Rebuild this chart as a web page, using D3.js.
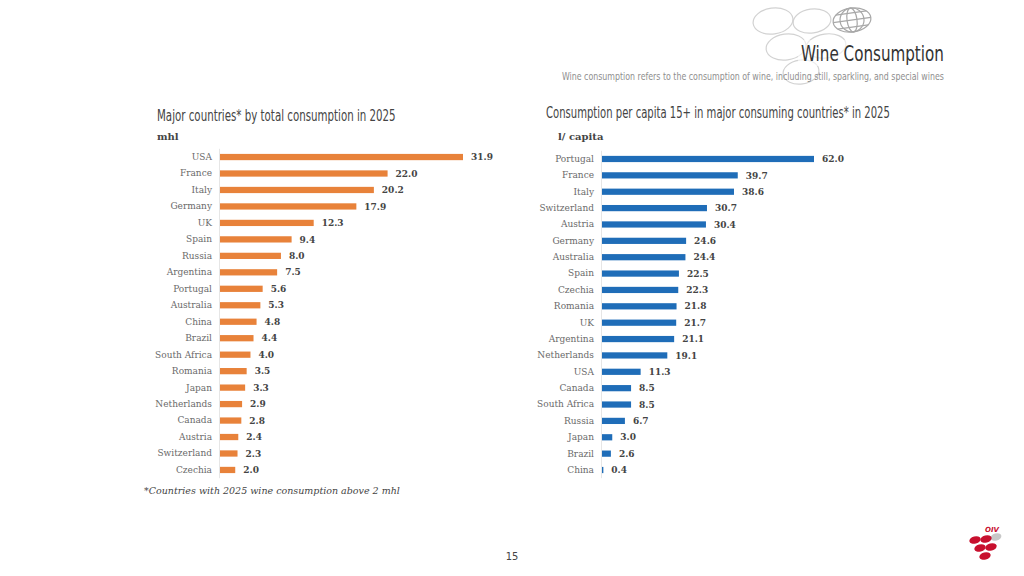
<!DOCTYPE html>
<html>
<head>
<meta charset="utf-8">
<script src="https://cdn.jsdelivr.net/npm/d3@7"></script>
<style>
  body { margin: 0; background: #fff; }
  .cond { font-family: "DejaVu Sans", sans-serif; font-stretch: condensed; }
  .serif { font-family: "DejaVu Serif", "Liberation Serif", serif; }
</style>
</head>
<body>
<svg id="chart" width="1024" height="576"></svg>
<script>
const totalCountries = ['USA', 'France', 'Italy', 'Germany', 'UK', 'Spain', 'Russia', 'Argentina',
  'Portugal', 'Australia', 'China', 'Brazil', 'South Africa', 'Romania', 'Japan', 'Netherlands',
  'Canada', 'Austria', 'Switzerland', 'Czechia'];
const totalValues = [31.9, 22.0, 20.2, 17.9, 12.3, 9.4, 8.0, 7.5, 5.6, 5.3, 4.8, 4.4, 4.0, 3.5,
  3.3, 2.9, 2.8, 2.4, 2.3, 2.0];

const capitaCountries = ['Portugal', 'France', 'Italy', 'Switzerland', 'Austria', 'Germany',
  'Australia', 'Spain', 'Czechia', 'Romania', 'UK', 'Argentina', 'Netherlands', 'USA', 'Canada',
  'South Africa', 'Russia', 'Japan', 'Brazil', 'China'];
const capitaValues = [62.0, 39.7, 38.6, 30.7, 30.4, 24.6, 24.4, 22.5, 22.3, 21.8, 21.7, 21.1,
  19.1, 11.3, 8.5, 8.5, 6.7, 3.0, 2.6, 0.4];

const svg = d3.select('#chart');

// squeeze a condensed heading into the width it takes in the slide
const fitText = (parent, x, y, width, size, fill, str) => {
  const t = parent.append('text').attr('class', 'cond')
    .attr('font-size', size).attr('fill', fill).text(str);
  const len = t.node().getComputedTextLength();
  t.attr('transform', `translate(${x},${y}) scale(${width / len},1)`);
  return t;
};

// decorative grape outlines behind the title
const deco = svg.append('g').attr('fill', 'none').attr('stroke', '#d2d2d2').attr('stroke-width', 1.2);
[[773, 21, 20, 13], [812, 21, 19, 12], [786, 47, 20, 13], [826, 46, 20, 12], [801, 72, 18, 12]]
  .forEach(([cx, cy, rx, ry]) => {
    deco.append('ellipse').attr('cx', cx).attr('cy', cy).attr('rx', rx).attr('ry', ry)
      .attr('transform', `rotate(-8,${cx},${cy})`);
  });
const globe = deco.append('g').attr('transform', 'rotate(-8,852,20)').attr('stroke', '#a8a8a8');
globe.append('ellipse').attr('cx', 852).attr('cy', 20).attr('rx', 19).attr('ry', 12);
[5, 12].forEach(rx => globe.append('ellipse').attr('cx', 852).attr('cy', 20).attr('rx', rx).attr('ry', 12));
[-7, 0, 7].forEach(dy => {
  const half = Math.sqrt(1 - (dy / 12) ** 2) * 19;
  globe.append('line').attr('x1', 852 - half).attr('x2', 852 + half).attr('y1', 20 + dy).attr('y2', 20 + dy);
});

svg.append('rect').attr('x', 798).attr('y', 40).attr('width', 150).attr('height', 26)
  .attr('fill', '#fff').attr('opacity', 0.6);

fitText(svg, 801, 61, 143, 22, '#333', 'Wine Consumption');
fitText(svg, 562, 80, 382, 11, '#8f8f8f',
  'Wine consumption refers to the consumption of wine, including still, sparkling, and special wines');

function drawChart(opts) {
  const g = svg.append('g');
  const x = d3.scaleLinear().domain([0, opts.max]).range([opts.x0, opts.x1]);
  const y = d3.scaleBand().domain(opts.countries).range([opts.y0, opts.y1]);
  const barH = y.bandwidth() * 0.38;

  fitText(g, opts.titleX, opts.titleY, opts.titleW, 16, '#444', opts.title);
  g.append('text').attr('class', 'serif').attr('x', opts.unitX).attr('y', 140)
    .attr('font-size', 10).attr('font-weight', 'bold').attr('fill', '#444').text(opts.unit);

  const rows = opts.countries.map((c, i) => ({ c, v: opts.values[i] }));
  g.selectAll('rect.bar').data(rows).enter().append('rect')
    .attr('class', 'bar')
    .attr('x', x(0))
    .attr('y', d => y(d.c) + (y.bandwidth() - barH) / 2)
    .attr('width', d => x(d.v) - x(0))
    .attr('height', barH)
    .attr('fill', opts.color);

  const axis = g.append('g').attr('transform', `translate(${x(0) - 8},0)`)
    .call(d3.axisLeft(y).tickSize(0).tickPadding(0));
  axis.select('.domain').remove();
  axis.selectAll('text').attr('class', 'serif').attr('font-size', 9).attr('fill', '#6a6a6a');

  g.append('line').attr('x1', x(0) - 0.5).attr('x2', x(0) - 0.5)
    .attr('y1', opts.y0).attr('y2', opts.y1).attr('stroke', '#e6e6e6');

  g.selectAll('text.val').data(rows).enter().append('text')
    .attr('class', 'serif val')
    .attr('x', d => x(d.v) + 8)
    .attr('y', d => y(d.c) + y.bandwidth() / 2)
    .attr('dy', '0.35em')
    .attr('font-size', 9).attr('font-weight', 'bold').attr('fill', '#444')
    .text(d => d.v.toFixed(1));
}

drawChart({
  countries: totalCountries, values: totalValues, max: 31.9,
  x0: 220, x1: 463, y0: 148.8, y1: 478.2, color: '#E8823A',
  title: 'Major countries* by total consumption in 2025', titleX: 157, titleY: 121, titleW: 239,
  unit: 'mhl', unitX: 157
});
drawChart({
  countries: capitaCountries, values: capitaValues, max: 62.0,
  x0: 602, x1: 814, y0: 150.8, y1: 478.2, color: '#1F6DB8',
  title: 'Consumption per capita 15+ in major consuming countries* in 2025', titleX: 546, titleY: 118, titleW: 344,
  unit: 'l/ capita', unitX: 558
});

svg.append('text').attr('class', 'serif').attr('x', 144).attr('y', 494)
  .attr('font-size', 9.5).attr('font-style', 'italic').attr('fill', '#444')
  .text('*Countries with 2025 wine consumption above 2 mhl');

svg.append('text').attr('class', 'cond').attr('x', 512).attr('y', 560).attr('text-anchor', 'middle')
  .attr('font-size', 11).attr('fill', '#444').text('15');

// OIV logo
svg.append('ellipse').attr('cx', 996).attr('cy', 537).attr('rx', 5.5).attr('ry', 3.5).attr('fill', '#c8c8c8')
  .attr('transform', 'rotate(-15,996,537)');
const logo = svg.append('g').attr('fill', '#C8102E');
[[975, 540], [986, 539], [980, 548], [991, 547], [985, 556]].forEach(([cx, cy]) => {
  logo.append('ellipse').attr('cx', cx).attr('cy', cy).attr('rx', 5.8).attr('ry', 3.6)
    .attr('transform', `rotate(-15,${cx},${cy})`);
});
svg.append('text').attr('x', 985).attr('y', 532).attr('font-size', 7).attr('font-style', 'italic')
  .attr('font-weight', 'bold').attr('font-family', 'DejaVu Sans, sans-serif').attr('fill', '#C8102E').text('OIV');
</script>
</body>
</html>
